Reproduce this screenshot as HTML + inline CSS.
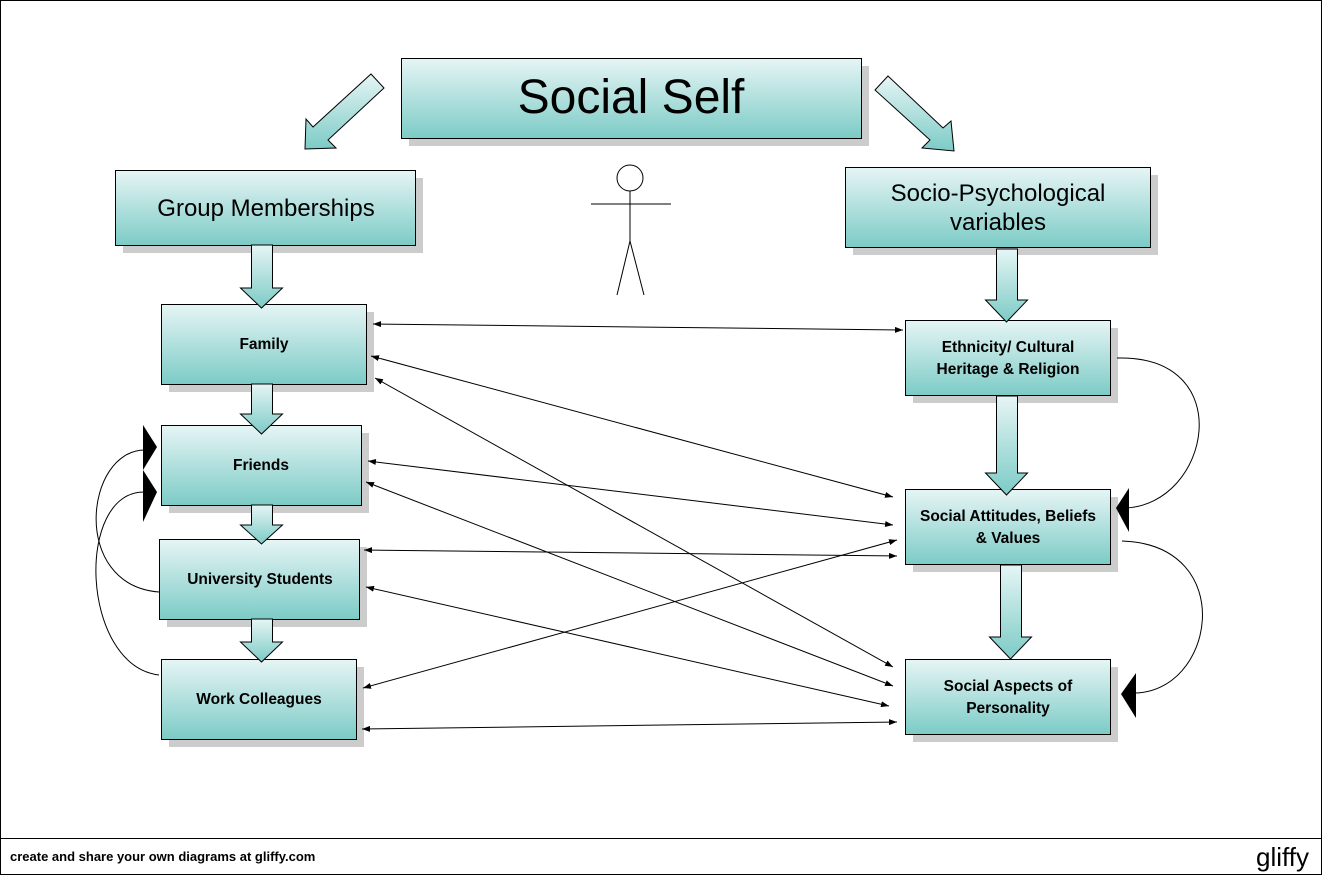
<!DOCTYPE html>
<html><head><meta charset="utf-8"><style>
body{margin:0;background:#fff}
svg{display:block}
text{font-family:"Liberation Sans",Arial,sans-serif;fill:#000}
</style></head><body>
<svg width="1322" height="875" viewBox="0 0 1322 875" xmlns="http://www.w3.org/2000/svg">
<defs>
<linearGradient id="g" x1="0" y1="0" x2="0" y2="1">
<stop offset="0" stop-color="#e6f5f5"/><stop offset="1" stop-color="#7ccbc6"/>
</linearGradient>
<marker id="a" markerWidth="8" markerHeight="6" refX="8" refY="3" orient="auto-start-reverse" markerUnits="userSpaceOnUse">
<path d="M0,0 L8,3 L0,6 z" fill="#000"/>
</marker>
</defs>
<rect x="0.5" y="0.5" width="1321" height="874" fill="#fff" stroke="#000"/>
<line x1="0" y1="838.5" x2="1322" y2="838.5" stroke="#000"/>
<text x="10" y="861" font-size="13" font-weight="bold">create and share your own diagrams at gliffy.com</text>
<text x="1256" y="866" font-size="26" fill="#222">gliffy</text>

<g stroke="#000" stroke-width="1">
<g fill="#cccccc" stroke="none">
<rect x="409" y="66" width="460" height="80"/>
<rect x="123" y="178" width="300" height="75"/>
<rect x="853" y="175" width="305" height="80"/>
<rect x="169" y="312" width="205" height="80"/>
<rect x="169" y="433" width="200" height="80"/>
<rect x="167" y="547" width="200" height="80"/>
<rect x="169" y="667" width="195" height="80"/>
<rect x="913" y="328" width="205" height="75"/>
<rect x="913" y="497" width="205" height="75"/>
<rect x="913" y="667" width="205" height="75"/>
</g>
<rect x="401.5" y="58.5" width="460" height="80" fill="url(#g)"/>
<rect x="115.5" y="170.5" width="300" height="75" fill="url(#g)"/>
<rect x="845.5" y="167.5" width="305" height="80" fill="url(#g)"/>
<rect x="161.5" y="304.5" width="205" height="80" fill="url(#g)"/>
<rect x="161.5" y="425.5" width="200" height="80" fill="url(#g)"/>
<rect x="159.5" y="539.5" width="200" height="80" fill="url(#g)"/>
<rect x="161.5" y="659.5" width="195" height="80" fill="url(#g)"/>
<rect x="905.5" y="320.5" width="205" height="75" fill="url(#g)"/>
<rect x="905.5" y="489.5" width="205" height="75" fill="url(#g)"/>
<rect x="905.5" y="659.5" width="205" height="75" fill="url(#g)"/>
</g>

<g stroke="#000" fill="url(#g)">
<path d="M251.5,245 h21 v43 h10 l-21,20 l-21,-20 h11 z"/>
<path d="M251.5,384 h21 v30 h10 l-21,20 l-21,-20 h11 z"/>
<path d="M251.5,505 h21 v20 h10 l-21,19 l-21,-19 h11 z"/>
<path d="M251.5,619 h21 v23 h10 l-21,20 l-21,-20 h11 z"/>
<path d="M996.5,249 h21 v51 h10 l-21,22 l-21,-22 h11 z"/>
<path d="M996.5,396 h21 v77 h10 l-21,22 l-21,-22 h11 z"/>
<path d="M1000.5,565 h21 v72 h10 l-21,22 l-21,-22 h11 z"/>
<path d="M371,74 L384,88 L328,140 L336,148 L305,149 L306,119 L313,127 Z"/>
<path d="M888,76 L875,90 L930,140 L922,148 L954,151 L951,121 L943,128 Z"/>
</g>

<text x="631" y="113" font-size="48" text-anchor="middle">Social Self</text>
<text x="266" y="216" font-size="24" text-anchor="middle">Group Memberships</text>
<text x="998" y="201" font-size="24" text-anchor="middle">Socio-Psychological</text>
<text x="998" y="230" font-size="24" text-anchor="middle">variables</text>
<g font-size="15.5" font-weight="bold" text-anchor="middle">
<text x="264" y="349">Family</text>
<text x="261" y="470">Friends</text>
<text x="260" y="584">University Students</text>
<text x="259" y="704">Work Colleagues</text>
<text x="1008" y="352">Ethnicity/ Cultural</text>
<text x="1008" y="374">Heritage &amp; Religion</text>
<text x="1008" y="521">Social Attitudes, Beliefs</text>
<text x="1008" y="543">&amp; Values</text>
<text x="1008" y="691">Social Aspects of</text>
<text x="1008" y="713">Personality</text>
</g>

<g stroke="#000" fill="none">
<circle cx="630" cy="178" r="13" fill="#fff"/>
<line x1="630" y1="191" x2="630" y2="241"/>
<line x1="591" y1="204" x2="671" y2="204"/>
<line x1="630" y1="241" x2="617" y2="295"/>
<line x1="630" y1="241" x2="644" y2="295"/>
</g>

<g stroke="#000" stroke-width="1" marker-start="url(#a)" marker-end="url(#a)">
<line x1="373" y1="324" x2="903" y2="330"/>
<line x1="371" y1="356" x2="893" y2="497"/>
<line x1="375" y1="378" x2="893" y2="667"/>
<line x1="368" y1="461" x2="893" y2="525"/>
<line x1="366" y1="482" x2="893" y2="686"/>
<line x1="364" y1="550" x2="897" y2="556"/>
<line x1="366" y1="587" x2="889" y2="706"/>
<line x1="363" y1="688" x2="897" y2="540"/>
<line x1="362" y1="729" x2="897" y2="722"/>
</g>

<g stroke="#000" fill="none">
<path d="M159,592 C70,585 85,450 145,450"/>
<path d="M159,675 C80,665 75,490 145,492"/>
<path d="M1117,358 C1240,355 1210,505 1125,508"/>
<path d="M1122,541 C1240,545 1215,695 1132,693"/>
</g>
<g fill="#000">
<path d="M157,447 L143,425 L143,470 Z"/>
<path d="M157,492 L143,470 L143,522 Z"/>
<path d="M1116,508 L1129,488 L1129,532 Z"/>
<path d="M1121,694 L1136,673 L1136,718 Z"/>
</g>
</svg>
</body></html>
